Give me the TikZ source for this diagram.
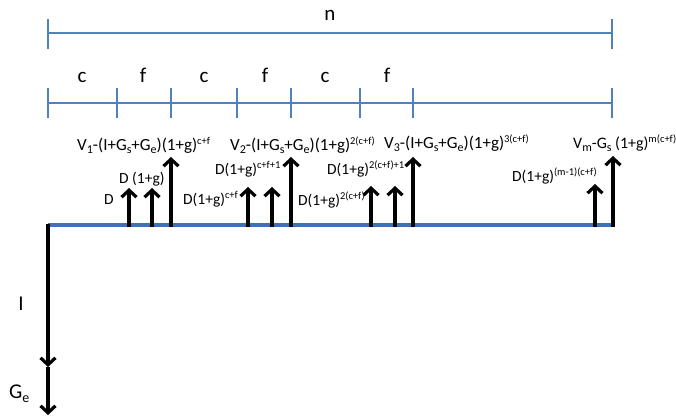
\documentclass[tikz,border=0pt]{standalone}
\usepackage{fontspec}
\setmainfont{Carlito}
\usetikzlibrary{arrows.meta}
\definecolor{barblue}{RGB}{79,129,189}
\definecolor{lineblue}{RGB}{62,112,188}
% raised and lowered indices in the text font
\newcommand{\sps}[1]{\raisebox{6pt}{\fontsize{10.5}{11}\selectfont #1}}
\newcommand{\sbs}[1]{\raisebox{-2.5pt}{\fontsize{12}{12}\selectfont #1}}
\tikzset{
  lbl/.style={font=\fontsize{15.5}{18}\selectfont, inner sep=0pt, text height=11pt, text depth=3pt},
  vlbl/.style={lbl, font=\fontsize{17}{20}\selectfont},
  big/.style={font=\fontsize{21}{24}\selectfont, inner sep=0pt},
  bar/.style={draw=barblue, line width=1.4pt},
  cash/.style={draw=black, line width=3.2pt, -{Straight Barb[length=7pt,width=15pt]}},
}
\begin{document}
\begin{tikzpicture}[x=1pt,y=-1pt]
\useasboundingbox (0,0) rectangle (676,419);

% total span n
\draw[bar] (48,33) -- (612,33);
\draw[bar] (48,19) -- (48,49);
\draw[bar] (612,19) -- (612,49);
\node[big] (n) at (330,15) {n};

% construction / finance periods
\draw[bar] (48,103) -- (612,103);
\foreach \x in {48,117,171,237,291,360,413,612}
  \draw[bar] (\x,88) -- (\x,118);
\node[big] (c1) at (82,77) {c};
\node[big] (f1) at (143,75) {f};
\node[big] (c2) at (204,77) {c};
\node[big] (f2) at (265,75) {f};
\node[big] (c3) at (325,77) {c};
\node[big] (f3) at (387,75) {f};

% time axis
\coordinate (t0) at (48,225);
\coordinate (t1) at (613,225);
\draw[draw=lineblue, line width=4.5pt] (t0) -- (t1);

% initial outflows
\coordinate (dI) at (48,367);
\coordinate (dG) at (48,415);
\draw[cash] (48,224) -- (dI);
\draw[cash] (dI) -- (dG);
\node[big] (lI) at (21,304) {I};
\node[big, anchor=base west] (lG) at (9,398) {G\raisebox{-4pt}{\fontsize{14}{14}\selectfont e}};

% inflows: coordinates on the axis and at the arrow tips
\foreach \nm/\x/\y in {a1/129/188, a2/152/188, a3/171/157,
                       b1/248/187, b2/272/187, b3/291/157,
                       c1/371/186, c2/395/186, c3/413/157,
                       m1/595/184, m2/613/156}{
  \coordinate (\nm s) at (\x,227);
  \coordinate (\nm e) at (\x,\y);
  \draw[cash] (\nm s) -- (\nm e);
}

% labels of the inflows
\node[vlbl, anchor=west] (v1) at (77,147) {V\sbs{1}-(I+G\sbs{s}+G\sbs{e})(1+g)\sps{c+f}};
\node[lbl, anchor=west] (d1b) at (119,180) {D (1+g)};
\node[lbl, anchor=west] (d1a) at (104,201) {D};
\node[lbl, anchor=west] (d2a) at (183,201) {D(1+g)\sps{c+f}};
\node[lbl, anchor=west] (d2b) at (215,171) {D(1+g)\sps{c+f+1}};
\node[vlbl, anchor=west] (v2) at (230,147) {V\sbs{2}-(I+G\sbs{s}+G\sbs{e})(1+g)\sps{2(c+f)}};
\node[lbl, anchor=west] (d3a) at (298,202) {D(1+g)\sps{2(c+f)}};
\node[lbl, anchor=west] (d3b) at (327,171) {D(1+g)\sps{2(c+f)+1}};
\node[vlbl, anchor=west] (v3) at (384,145) {V\sbs{3}-(I+G\sbs{s}+G\sbs{e})(1+g)\sps{3(c+f)}};
\node[lbl, anchor=west] (dm) at (512,178) {D(1+g)\sps{(m-1)(c+f)}};
\node[lbl, anchor=west, font=\fontsize{16}{18}\selectfont] (vm) at (573,145) {V\sbs{m}-G\sbs{s} (1+g)\sps{m(c+f)}};
\end{tikzpicture}
\end{document}
